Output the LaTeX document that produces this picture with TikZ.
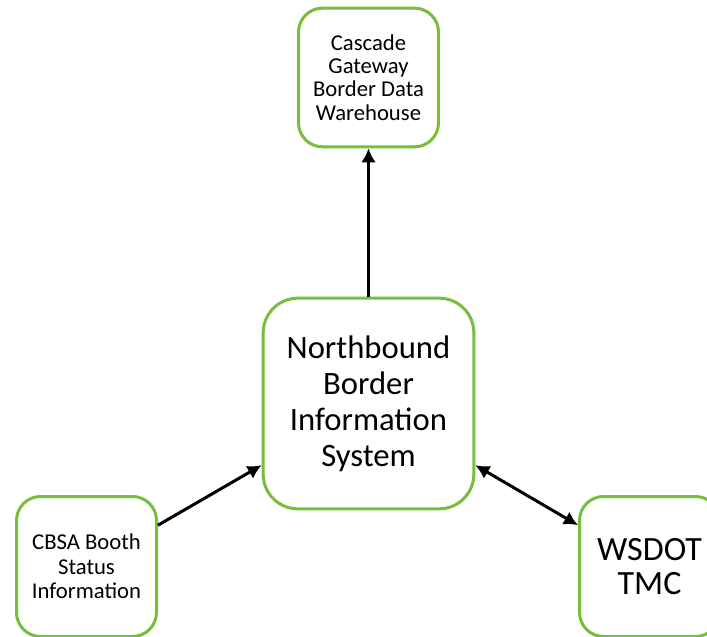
\documentclass[tikz,border=0pt]{standalone}
\usepackage{fontspec}
\setmainfont{Carlito}
\usetikzlibrary{calc,arrows.meta}

\definecolor{boxgreen}{RGB}{120,190,60}

\tikzset{
  sysbox/.style={draw=boxgreen,line width=2.25pt,rounded corners=18pt,fill=white,
    align=center,minimum width=105pt,minimum height=104pt,inner sep=2pt},
  bigbox/.style={sysbox,rounded corners=26pt,minimum width=158pt,minimum height=158pt},
  flow/.style={line width=2.25pt,-{Latex[length=10.5pt,width=11pt]}},
  flowboth/.style={line width=2.25pt,{Latex[length=10.5pt,width=11pt]}-{Latex[length=10.5pt,width=11pt]}}
}

\begin{document}
\begin{tikzpicture}[x=0.75pt,y=0.75pt]
                \useasboundingbox (0,0) rectangle (707,636);  % image frame in px

                \node[bigbox,font=\fontsize{24.5}{27}\selectfont] (nbis) at (368.5,232.5)
                    {Northbound\\Border\\Information\\System};
                \node[sysbox,font=\fontsize{17}{17.5}\selectfont] (warehouse) at (368.5,558.5)
                    {Cascade\\Gateway\\Border Data\\Warehouse};
                \node[sysbox,minimum height=105pt,font=\fontsize{17}{18.5}\selectfont] (cbsa) at (86.5,69.5)
                    {CBSA Booth\\Status\\Information};
                \node[sysbox,minimum height=105pt,font=\fontsize{25.5}{26}\selectfont] (wsdot) at (649.5,69.5)
                    {WSDOT\\TMC};

                \draw[flow] (nbis.north) -- (warehouse.south);
                \draw[flow] (cbsa.30) -- (nbis.210);
                \draw[flowboth] (nbis.-30) -- (wsdot.150);
\end{tikzpicture}
\end{document}
